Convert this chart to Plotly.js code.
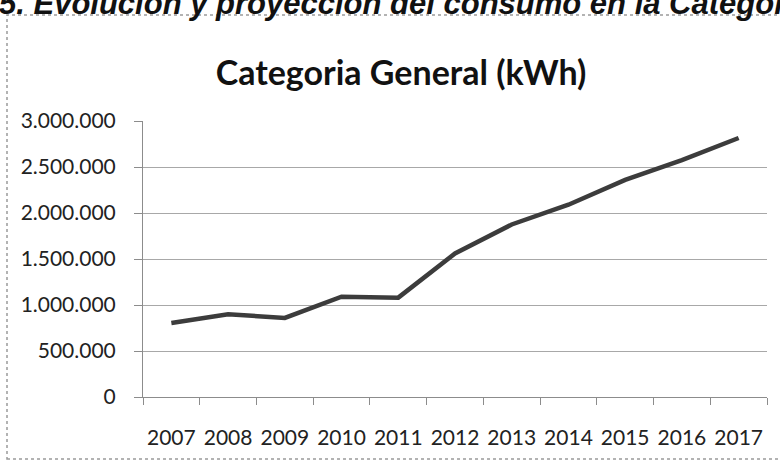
<!DOCTYPE html>
<html>
<head>
<meta charset="utf-8">
<script src="https://cdn.plot.ly/plotly-3.0.1.min.js"></script>
<style>
  html, body { margin: 0; padding: 0; background: #ffffff; }
  #chart { width: 780px; height: 462px; }
</style>
</head>
<body>
<div id="chart"></div>
<script>
const years = ["2007","2008","2009","2010","2011","2012","2013","2014","2015","2016","2017"];
const consumoKWh = [805000, 900000, 860000, 1090000, 1080000, 1560000, 1875000, 2090000, 2360000, 2575000, 2815000];
const yTickVals = [0, 500000, 1000000, 1500000, 2000000, 2500000, 3000000];
const yTickText = ["0", "500.000", "1.000.000", "1.500.000", "2.000.000", "2.500.000", "3.000.000"];
const chartTitle = "Categoria General (kWh)";
const pageHeading = "5. Evolución y proyección del consumo en la Categoría General";

const L = 143, R = 13, T = 121, B = 65;
const W = 780, H = 462;
const pw = W - L - R, ph = H - T - B;
const px2x = p => (p - L) / pw;
const py2y = p => (H - B - p) / ph;

const trace = {
  x: years,
  y: consumoKWh,
  type: "scatter",
  mode: "lines",
  line: { color: "#3c3c3c", width: 4.5 },
  hoverinfo: "x+y"
};

const layout = {
  width: W,
  height: H,
  margin: { l: L, r: R, t: T, b: B, pad: 0 },
  paper_bgcolor: "#ffffff",
  plot_bgcolor: "#ffffff",
  showlegend: false,
  font: { family: "Lato, 'Open Sans', sans-serif", color: "#222222" },
  title: {
    text: chartTitle,
    font: { family: "Lato, 'Open Sans', sans-serif", size: 34, color: "#111111", weight: "bold" },
    xref: "container", x: 401 / W, xanchor: "center",
    yref: "container", y: 1 - 73 / H, yanchor: "middle"
  },
  xaxis: {
    type: "category",
    range: [-0.5, 10.5],
    showgrid: false,
    showline: true,
    linecolor: "#8c8c8c",
    linewidth: 1,
    ticks: "outside",
    tickson: "boundaries",
    ticklen: 7,
    tickcolor: "#8c8c8c",
    tickwidth: 1,
    tickangle: 0,
    ticklabelstandoff: 22,
    tickfont: { size: 21, color: "#222222" },
    zeroline: false,
    fixedrange: true
  },
  yaxis: {
    range: [0, 3000000],
    tickvals: yTickVals,
    ticktext: yTickText,
    showgrid: true,
    gridcolor: "#a8a8a8",
    gridwidth: 1,
    showline: true,
    linecolor: "#8c8c8c",
    linewidth: 1,
    ticks: "outside",
    ticklen: 8,
    tickcolor: "#8c8c8c",
    tickwidth: 1,
    ticklabelstandoff: 14,
    tickfont: { size: 21, color: "#222222" },
    zeroline: false,
    fixedrange: true
  },
  shapes: [
    {
      type: "rect", xref: "paper", yref: "paper",
      x0: px2x(7), x1: px2x(800), y0: py2y(459), y1: py2y(15),
      line: { color: "#9a9a9a", width: 1.5, dash: "dot" },
      fillcolor: "rgba(0,0,0,0)", layer: "below"
    }
  ],
  annotations: [
    {
      text: "<b><i>" + pageHeading + "</i></b>",
      xref: "paper", yref: "paper",
      x: px2x(-2), xanchor: "left",
      y: py2y(3), yanchor: "middle",
      showarrow: false,
      borderpad: 0,
      font: { family: "'Liberation Sans', Arial, sans-serif", size: 31, color: "#111111" }
    }
  ]
};

Plotly.newPlot("chart", [trace], layout, { displayModeBar: false, staticPlot: true });
</script>
</body>
</html>
